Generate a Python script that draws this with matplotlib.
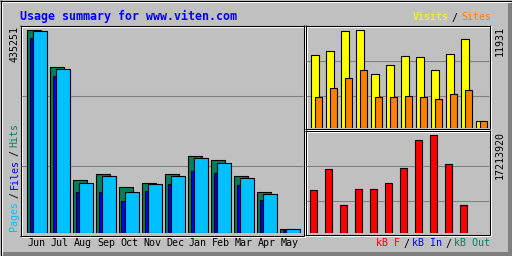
import matplotlib
matplotlib.use("Agg")
import matplotlib.pyplot as plt
import numpy as np

# ---------------- data ----------------
months = ["Jun", "Jul", "Aug", "Sep", "Oct", "Nov", "Dec", "Jan", "Feb", "Mar", "Apr", "May"]
hits = [435251, 353800, 113600, 126500, 96500, 107200, 124400, 163000, 154400, 122200, 87900, 8500]
files = [418000, 334500, 87900, 87900, 68600, 90000, 105000, 130800, 128600, 102900, 70750, 6400]
pages = [433000, 349500, 107200, 122200, 87900, 105000, 122200, 160800, 148000, 117900, 83600, 8500]
visits = [8790, 9270, 11690, 11931, 6490, 7580, 8670, 8550, 6970, 8910, 10720, 810]
sites = [3710, 4800, 6010, 6970, 3710, 3710, 3830, 3710, 3470, 4070, 4560, 810]
kbytes = [7450000, 11100000, 4830000, 7620000, 7620000, 8670000, 11280000,
          16170000, 17213920, 11980000, 4830000, 40000]
title = "Usage summary for www.viten.com"

# ---------------- style ----------------
BG = "#C0C0C0"
HIT_C, FILE_C, PAGE_C = "#00805C", "#0000FF", "#00C0FF"
VISIT_C, SITE_C, KB_C = "#FFFF00", "#FF8000", "#FF0000"
GRID_C = "#808080"
MONO = "DejaVu Sans Mono"
FS = 7.2
LW = 0.8

W, H = 512, 256
fig = plt.figure(figsize=(W / 100, H / 100), dpi=100, facecolor=BG)
bg = fig.add_axes([0, 0, 1, 1])
bg.set_xlim(0, W)
bg.set_ylim(H, 0)
bg.axis("off")
bg.set_zorder(0)


def hl(y, x0, x1, c):
    bg.plot([x0, x1 + 1], [y + 0.5, y + 0.5], color=c, lw=0.75, solid_capstyle="butt")


def vl(x, y0, y1, c):
    bg.plot([x + 0.5, x + 0.5], [y0, y1 + 1], color=c, lw=0.75, solid_capstyle="butt")


def rect(x0, y0, x1, y1, c):
    hl(y0, x0, x1, c); hl(y1, x0, x1, c); vl(x0, y0, y1, c); vl(x1, y0, y1, c)


# outer frame
for k in range(4):
    hl(251 + k, 2, 510, "#808080")
    vl(507 + k, 2, 254, "#808080")
hl(1, 1, 510, "white"); vl(1, 1, 254, "white")
rect(0, 0, 511, 255, "black")

# panels (sunken frames)
for (x0, y0, x1, y1) in [(20, 25, 303, 235), (305, 25, 489, 128), (305, 130, 489, 234)]:
    rect(x0 + 1, y0 + 1, x1 + 1, y1 + 1, "white")
    rect(x0, y0, x1, y1, "black")

# grid lines
for y in (95, 165):
    hl(y, 21, 302, GRID_C)
for y in (60, 95):
    hl(y, 306, 488, GRID_C)
for y in (165, 200):
    hl(y, 306, 488, GRID_C)


def px_ax(x0, x1, ybase, ytop):
    a = fig.add_axes([x0 / W, (H - ybase) / H, (x1 - x0) / W, (ybase - ytop) / H])
    a.set_facecolor("none")
    for s in a.spines.values():
        s.set_visible(False)
    a.set_zorder(2)
    return a


x = np.arange(12)

# ---- left: hits / files / pages ----
axL = px_ax(21, 304, 232.5, 29.5)
u = 23.0
axL.set_xlim(0, 283 / u)
axL.set_ylim(0, max(hits))
off = 5.5 / u
bw = 14 / u
axL.bar(x + off, hits, bw, align="edge", color=HIT_C, edgecolor="black", lw=LW)
axL.bar(x + off + 3 / u, files, bw, align="edge", color=FILE_C, edgecolor="black", lw=LW)
axL.bar(x + off + 6 / u, pages, bw, align="edge", color=PAGE_C, edgecolor="black", lw=LW)
axL.set_yticks([])
axL.set_xticks(x + (37 - 21) / u)
axL.set_xticklabels(months, family=MONO, fontsize=FS)
axL.tick_params(axis="x", length=0, pad=4.0)

# ---- top right: visits / sites ----
axV = px_ax(306, 490, 128.0, 29.5)
u2 = 15.0
axV.set_xlim(0, 184 / u2)
axV.set_ylim(0, max(visits))
axV.bar(x + 4.5 / u2, visits, 8.5 / u2, align="edge", color=VISIT_C, edgecolor="black", lw=LW)
axV.bar(x + 8.5 / u2, sites, 7.5 / u2, align="edge", color=SITE_C, edgecolor="black", lw=LW)
axV.set_xticks([]); axV.set_yticks([])

# ---- bottom right: kB ----
axK = px_ax(306, 490, 233.0, 134.5)
axK.set_xlim(0, 184 / u2)
axK.set_ylim(0, max(kbytes))
axK.bar(x + 3.5 / u2, kbytes, 7.5 / u2, align="edge", color=KB_C, edgecolor="black", lw=LW)
axK.set_xticks([]); axK.set_yticks([])

# ---------------- texts ----------------
bg.text(20, 16, title, family=MONO, fontsize=8.4, fontweight="bold", color="#0000FF",
        ha="left", va="center")

# max labels
bg.text(14.5, 26, str(max(hits)), family=MONO, fontsize=FS, rotation=90, ha="center", va="top")
bg.text(500, 26, str(max(visits)), family=MONO, fontsize=FS, rotation=90, ha="center", va="top")
bg.text(500, 131, str(max(kbytes)), family=MONO, fontsize=FS, rotation=90, ha="center", va="top")

# visits / sites legend
ty = 17.5
bg.text(413, ty, "Visits", family=MONO, fontsize=FS, color=VISIT_C, ha="left", va="center")
bg.text(452, ty, "/", family=MONO, fontsize=FS, color="black", ha="left", va="center")
bg.text(461, ty, "Sites", family=MONO, fontsize=FS, color=SITE_C, ha="left", va="center")

# kB legend
ky = 243.5
bg.text(376, ky, "kB F", family=MONO, fontsize=FS, color=KB_C, ha="left", va="center")
bg.text(403, ky, "/", family=MONO, fontsize=FS, color="black", ha="left", va="center")
bg.text(412, ky, "kB In", family=MONO, fontsize=FS, color=FILE_C, ha="left", va="center")
bg.text(445, ky, "/", family=MONO, fontsize=FS, color="black", ha="left", va="center")
bg.text(454, ky, "kB Out", family=MONO, fontsize=FS, color=HIT_C, ha="left", va="center")

# pages / files / hits legend (vertical)
lx = 14.5
bg.text(lx, 231, "Pages", family=MONO, fontsize=FS, rotation=90, color=PAGE_C, ha="center", va="bottom")
bg.text(lx, 198, "/", family=MONO, fontsize=FS, rotation=90, color="black", ha="center", va="bottom")
bg.text(lx, 189, "Files", family=MONO, fontsize=FS, rotation=90, color=FILE_C, ha="center", va="bottom")
bg.text(lx, 156, "/", family=MONO, fontsize=FS, rotation=90, color="black", ha="center", va="bottom")
bg.text(lx, 147, "Hits", family=MONO, fontsize=FS, rotation=90, color=HIT_C, ha="center", va="bottom")

fig.savefig("out.png", dpi=100, facecolor=BG)
